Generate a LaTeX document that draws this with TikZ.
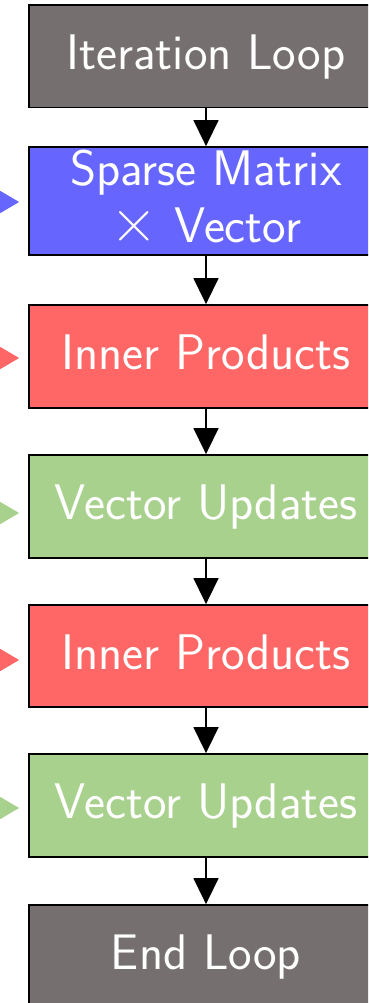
\documentclass[tikz,border=0pt]{standalone}
\usepackage{fontspec}
\usepackage{graphicx}
\usetikzlibrary{arrows.meta}
\definecolor{boxgray}{HTML}{75706F}
\definecolor{boxblue}{HTML}{6666FF}
\definecolor{boxred}{HTML}{FF6666}
\definecolor{boxgreen}{HTML}{A9D18E}
\tikzset{
  stepbox/.style={draw=black, line width=1.8pt, text=white, minimum width=354pt,
    inner sep=0pt, align=center, font=\sffamily\fontsize{50}{57}\selectfont},
  oneline/.style={text height=35pt, text depth=9pt},
  flowarrow/.style={line width=1.5pt, -{Triangle[length=26pt,width=25pt]}},
  sidearrow/.style={line width=1pt, shorten >=9pt, -{Triangle[length=24pt,width=28pt]}}
}
\begin{document}
\begin{tikzpicture}[x=1pt,y=-1pt]
\useasboundingbox (0,0) rectangle (368,1003);
\clip (0,0) rectangle (368,1003);
\node[stepbox, oneline, fill=boxgray, minimum height=102.5pt] (n1) at (206,56.25) {Iteration Loop};
\node[stepbox, fill=boxblue, minimum height=108pt] (n2) at (206,201) {Sparse Matrix\\\scalebox{1.3}{×} Vector\vphantom{p}};
\node[stepbox, oneline, fill=boxred, minimum height=103pt] (n3) at (206,356.5) {Inner Products};
\node[stepbox, oneline, fill=boxgreen, minimum height=103pt] (n4) at (206,506.5) {Vector Updates};
\node[stepbox, oneline, fill=boxred, minimum height=102pt] (n5) at (206,656) {Inner Products};
\node[stepbox, oneline, fill=boxgreen, minimum height=103pt] (n6) at (206,805.5) {Vector Updates};
\node[stepbox, oneline, fill=boxgray, minimum height=103pt] (n7) at (206,956.5) {End Loop};
\draw[flowarrow] (n1) -- (n2);
\draw[flowarrow] (n2) -- (n3);
\draw[flowarrow] (n3) -- (n4);
\draw[flowarrow] (n4) -- (n5);
\draw[flowarrow] (n5) -- (n6);
\draw[flowarrow] (n6) -- (n7);
\coordinate (c2) at (-40,202);
\coordinate (c3) at (-40,358);
\coordinate (c4) at (-40,513);
\coordinate (c5) at (-40,660);
\coordinate (c6) at (-40,808);
\draw[sidearrow, draw=boxblue, fill=boxblue] (c2) -- (c2 -| n2.west);
\draw[sidearrow, draw=boxred, fill=boxred] (c3) -- (c3 -| n3.west);
\draw[sidearrow, draw=boxgreen, fill=boxgreen] (c4) -- (c4 -| n4.west);
\draw[sidearrow, draw=boxred, fill=boxred] (c5) -- (c5 -| n5.west);
\draw[sidearrow, draw=boxgreen, fill=boxgreen] (c6) -- (c6 -| n6.west);
\end{tikzpicture}
\end{document}
